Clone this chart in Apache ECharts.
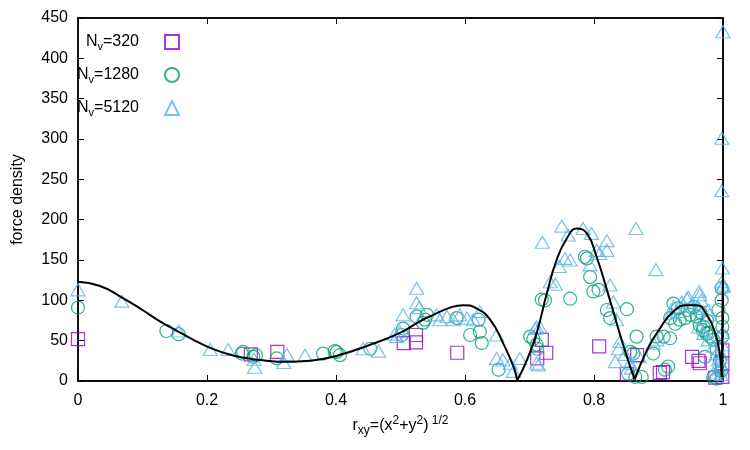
<!DOCTYPE html>
<html>
<head>
<meta charset="utf-8">
<script src="https://cdn.jsdelivr.net/npm/echarts@6/dist/echarts.min.js"></script>
<style>
html, body { margin: 0; padding: 0; background: #fff; }
#chart { width: 750px; height: 450px; }
</style>
</head>
<body>
<div id="chart"></div>
<script>
// N_v = 320 (squares)
var r320 = [0.0, 0.268, 0.309, 0.505, 0.524, 0.524, 0.588, 0.712, 0.719, 0.726, 0.808, 0.851, 0.867, 0.902, 0.907, 0.952, 0.962, 0.964, 0.988, 0.999, 0.999, 0.999];
var f320 = [52, 33, 36, 47, 57, 48, 35, 28, 51, 35, 43, 9, 32, 10, 11, 30, 25, 22, 4, 38, 22, 5];

// N_v = 1280 (circles)
var r1280 = [0.0, 0.137, 0.156, 0.254, 0.256, 0.272, 0.276, 0.308, 0.380, 0.398, 0.401, 0.406, 0.453, 0.502, 0.504, 0.525, 0.535, 0.541, 0.538, 0.587,
  0.608, 0.621, 0.623, 0.626, 0.652, 0.701, 0.706, 0.711, 0.712, 0.719, 0.724, 0.763, 0.786, 0.789, 0.794, 0.799, 0.807, 0.820, 0.825, 0.851,
  0.866, 0.861, 0.853, 0.856, 0.864, 0.874, 0.892, 0.897, 0.908, 0.918, 0.915, 0.923, 0.918, 0.926, 0.933, 0.941, 0.949, 0.959, 0.970, 0.974,
  0.980, 0.985, 0.993, 0.999, 0.999, 0.999, 0.998, 0.985, 0.990, 0.972, 0.998, 0.910, 0.930, 0.945, 0.955, 0.965, 0.975, 0.990, 0.995, 0.997,
  0.964, 0.969, 0.977];
var f1280 = [91, 62, 58, 34, 36, 30, 32, 28, 34, 37, 36, 32, 40, 57, 65, 80, 72, 82, 76, 78,
  57, 76, 61, 47, 14, 55, 52, 45, 40, 101, 100, 102, 154, 152, 129, 111, 113, 88, 78, 89,
  55, 34, 9, 36, 5, 5, 34, 55, 55, 53, 18, 96, 78, 71, 76, 78, 82, 80, 67, 59,
  55, 51, 88, 78, 67, 55, 115, 5, 3, 30, 100, 14, 90, 88, 92, 85, 75, 40, 25, 12,
  69, 63, 59];

// N_v = 5120 (triangles)
var r5120 = [0.0, 0.068, 0.156, 0.205, 0.233, 0.273, 0.274, 0.319, 0.324, 0.352, 0.442, 0.466, 0.491, 0.494, 0.499, 0.504, 0.525, 0.529, 0.525, 0.556,
  0.561, 0.572, 0.582, 0.592, 0.603, 0.613, 0.623, 0.649, 0.649, 0.659, 0.670, 0.675, 0.685, 0.709, 0.711, 0.716, 0.711, 0.714, 0.720, 0.732,
  0.740, 0.746, 0.750, 0.755, 0.763, 0.760, 0.783, 0.796, 0.804, 0.809, 0.820, 0.820, 0.794, 0.825, 0.830, 0.835, 0.840, 0.838, 0.833, 0.856,
  0.858, 0.865, 0.896, 0.892, 0.897, 0.923, 0.936, 0.946, 0.964, 0.966, 0.920, 0.930, 0.951, 0.961, 0.977, 0.979, 0.962, 0.970, 0.977, 0.985,
  0.990, 0.993, 0.999, 0.998, 1.0, 1.0, 1.0, 0.998, 0.998, 0.944, 0.963, 0.995, 0.997, 0.999, 0.999, 0.999, 0.996, 0.985, 0.870, 0.848];
var f5120 = [113, 99, 62, 39, 39, 27, 17, 23, 33, 32, 40, 37, 58, 55, 61, 82, 115, 91, 97, 82,
  76, 80, 76, 82, 78, 76, 86, 57, 28, 26, 22, 12, 28, 65, 67, 67, 22, 20, 172, 123,
  120, 142, 192, 152, 150, 181, 189, 183, 162, 158, 174, 162, 144, 119, 98, 76, 49, 40, 24, 22,
  16, 189, 138, 47, 51, 92, 98, 104, 107, 100, 84, 86, 94, 90, 88, 82, 67, 59, 51, 43,
  34, 26, 140, 123, 117, 119, 433, 301, 236, 102, 111, 15, 8, 60, 45, 30, 20, 10, 30, 33];

// analytic solution (black line)
var curveR = [0, 0.033, 0.065, 0.1, 0.127, 0.156, 0.179, 0.205, 0.23, 0.255, 0.282, 0.31, 0.334, 0.36, 0.40, 0.45, 0.50, 0.53, 0.551, 0.577,
  0.597, 0.618, 0.639, 0.659, 0.675, 0.681, 0.696, 0.711, 0.727, 0.742, 0.758, 0.773, 0.789, 0.804, 0.82, 0.835, 0.851, 0.863, 0.882, 0.902,
  0.923, 0.944, 0.959, 0.975, 0.988, 0.995, 0.998, 1.0];
var curveF = [123, 118, 105, 88, 74, 61, 51, 41, 34, 29, 26, 24, 24, 25, 31, 44, 60, 74, 82, 91,
  94, 90, 76, 47, 18, 1, 26, 59, 109, 150, 177, 189, 183, 154, 113, 72, 30, 2, 38, 65,
  86, 94, 94, 82, 59, 34, 5, 142];
var cuspR = [0.681, 0.863, 0.998];

var yMax = 450, yStep = 50;

var colors = ['#9400d3', '#009e73', '#56b4e9'];
var nvLabels = ['320', '1280', '5120'];

function pairs(xs, ys) {
  return xs.map(function (x, i) { return [x, ys[i]]; });
}

// split the curve at the zeros so the cusps stay sharp
function curveSegments() {
  var segs = [], cur = [];
  curveR.forEach(function (x, i) {
    cur.push([x, curveF[i]]);
    if (cuspR.indexOf(x) >= 0) {
      segs.push(cur);
      cur = [[x, curveF[i]]];
    }
  });
  if (cur.length > 1) segs.push(cur);
  return segs;
}

var chart = echarts.init(document.getElementById('chart'));

var font = 'Liberation Sans, Arial, sans-serif';
var legendRich = {
  n: { fontSize: 16, fontFamily: font, color: '#000', lineHeight: 20 },
  s: { fontSize: 11, fontFamily: font, color: '#000', verticalAlign: 'bottom', lineHeight: 11 },
  g: { width: 21 }
};

var scatterDefs = [
  { name: 'Nv=320', x: r320, y: f320, symbol: 'rect', size: 13 },
  { name: 'Nv=1280', x: r1280, y: f1280, symbol: 'circle', size: 13 },
  { name: 'Nv=5120', x: r5120, y: f5120, symbol: 'triangle', size: [14, 12] }
];

var series = scatterDefs.map(function (d, i) {
  return {
    type: 'scatter',
    name: d.name,
    data: pairs(d.x, d.y),
    symbol: d.symbol,
    symbolSize: d.size,
    clip: false,
    itemStyle: { color: 'rgba(0,0,0,0)', borderColor: colors[i], borderWidth: 1.2 }
  };
});

curveSegments().forEach(function (seg) {
  series.push({
    type: 'line',
    data: seg,
    smooth: 0.5,
    showSymbol: false,
    lineStyle: { color: '#000', width: 2 },
    z: 5
  });
});

var legendTops = [34, 67, 100];
var legends = scatterDefs.map(function (d, i) {
  return {
    data: [d.name],
    right: 570,
    top: legendTops[i],
    padding: 0,
    align: 'right',
    orient: 'vertical',
    itemWidth: 14,
    itemHeight: 14,
    selectedMode: false,
    formatter: function () { return '{n|N}{s|v}{n|=' + nvLabels[i] + '}{g|}'; },
    textStyle: { rich: legendRich }
  };
});

function tickStyle() {
  return { show: true, inside: true, length: 6, lineStyle: { color: '#000', width: 1 } };
}
function axisLine() {
  return { show: true, onZero: false, lineStyle: { color: '#000', width: 1.5 } };
}
function labelStyle(margin) {
  return { color: '#000', fontSize: 16, fontFamily: font, margin: margin };
}

var option = {
  animation: false,
  backgroundColor: '#fff',
  legend: legends,
  grid: { left: 78, right: 27, top: 18, bottom: 69, containLabel: false,
          show: true, borderColor: '#000', borderWidth: 1.5, backgroundColor: 'transparent' },
  xAxis: [
    {
      type: 'value', min: 0, max: 1, interval: 0.2,
      axisLine: axisLine(), axisTick: tickStyle(), splitLine: { show: false },
      axisLabel: labelStyle(12),
      name: '{n|r}{sb|xy}{n|=(x}{sp|2}{n|+y}{sp|2}{n|)}{sp| 1/2}',
      nameLocation: 'middle',
      nameGap: 34,
      nameTextStyle: {
        rich: {
          n: { fontSize: 16, fontFamily: font, color: '#000', lineHeight: 22 },
          sb: { fontSize: 12, fontFamily: font, color: '#000', verticalAlign: 'bottom', lineHeight: 12 },
          sp: { fontSize: 12, fontFamily: font, color: '#000', verticalAlign: 'top', lineHeight: 12 }
        }
      }
    },
    {
      type: 'value', min: 0, max: 1, interval: 0.2, position: 'top',
      axisLine: axisLine(), axisTick: tickStyle(), axisLabel: { show: false }, splitLine: { show: false }
    }
  ],
  yAxis: [
    {
      type: 'value', min: 0, max: yMax, interval: yStep,
      axisLine: axisLine(), axisTick: tickStyle(), splitLine: { show: false },
      axisLabel: labelStyle(10),
      name: 'force density',
      nameLocation: 'middle',
      nameGap: 52,
      nameTextStyle: { color: '#000', fontSize: 16, fontFamily: font }
    },
    {
      type: 'value', min: 0, max: yMax, interval: yStep, position: 'right',
      axisLine: axisLine(), axisTick: tickStyle(), axisLabel: { show: false }, splitLine: { show: false }
    }
  ],
  series: series
};

chart.setOption(option);
</script>
</body>
</html>
